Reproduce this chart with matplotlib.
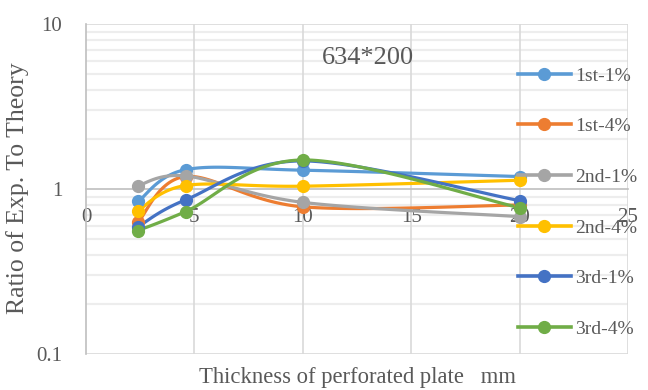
import matplotlib
matplotlib.use("Agg")
import matplotlib.pyplot as plt
import numpy as np
from matplotlib.ticker import FixedLocator, NullFormatter

plt.rcParams['font.family'] = ['Liberation Serif', 'DejaVu Serif']

thickness = [2.4, 4.6, 10, 20]
labels = ['1st-1%', '1st-4%', '2nd-1%', '2nd-4%', '3rd-1%', '3rd-4%']
ratio_1st_1 = [0.84, 1.31, 1.30, 1.19]
ratio_1st_4 = [0.63, 1.19, 0.78, 0.80]
ratio_2nd_1 = [1.05, 1.20, 0.83, 0.68]
ratio_2nd_4 = [0.74, 1.05, 1.04, 1.13]
ratio_3rd_1 = [0.59, 0.86, 1.48, 0.85]
ratio_3rd_4 = [0.56, 0.73, 1.50, 0.77]
series = [ratio_1st_1, ratio_1st_4, ratio_2nd_1, ratio_2nd_4, ratio_3rd_1, ratio_3rd_4]
colors = ['#5B9BD5', '#ED7D31', '#A5A5A5', '#FFC000', '#4472C4', '#70AD47']

txt = '#595959'


def smooth(xs, ys, n=40):
    # Bezier smoothing between points (in x / log-y space), like a spreadsheet "smoothed line"
    p = np.column_stack([xs, np.log10(ys)])
    out = [p[0]]
    t = np.linspace(0, 1, n)[1:, None]
    for i in range(len(p) - 1):
        p0 = p[max(i - 1, 0)]
        p1, p2 = p[i], p[i + 1]
        p3 = p[min(i + 2, len(p) - 1)]
        c1 = p1 + (p2 - p0) / 6
        c2 = p2 - (p3 - p1) / 6
        seg = ((1 - t) ** 3) * p1 + 3 * ((1 - t) ** 2) * t * c1 + 3 * (1 - t) * t ** 2 * c2 + t ** 3 * p2
        out.extend(seg)
    out = np.array(out)
    return out[:, 0], 10 ** out[:, 1]


fig = plt.figure(figsize=(6.48, 3.9), dpi=100)
ax = fig.add_axes([86 / 648, 1 - 354 / 390, (628 - 86) / 648, (354 - 24) / 390])

ax.set_yscale('log')
ax.set_ylim(0.1, 10)
ax.set_xlim(0, 25)

# gridlines
minor = [m * 10.0 ** e for e in (-1, 0) for m in range(2, 10)]
for v in minor:
    ax.axhline(v, color='#EDEDED', lw=1.6, zorder=0)
for v in (0.1, 10):
    ax.axhline(v, color='#D9D9D9', lw=1.2, zorder=0)
for v in (5, 10, 15, 20, 25):
    ax.axvline(v, color='#D9D9D9', lw=1.2, zorder=0)

for ys, c, lab in zip(series, colors, labels):
    sx, sy = smooth(thickness, ys)
    ax.plot(sx, sy, color=c, lw=2.3, solid_capstyle='round', zorder=3)
    ax.plot(thickness, ys, 'o', color=c, ms=8.5, zorder=4)
    ax.plot([], [], '-o', color=c, lw=2.6, ms=8.5, label=lab)

for s in ('top', 'right'):
    ax.spines[s].set_visible(False)
ax.spines['left'].set_color('#BFBFBF')
ax.spines['left'].set_linewidth(1.2)
ax.spines['bottom'].set_position(('data', 1))
ax.spines['bottom'].set_color('#BFBFBF')
ax.spines['bottom'].set_linewidth(1.2)

ax.yaxis.set_major_locator(FixedLocator([0.1, 1, 10]))
ax.yaxis.set_minor_locator(FixedLocator(minor))
ax.yaxis.set_minor_formatter(NullFormatter())
ax.set_yticklabels(['0.1', '1', '10'])
ax.set_xticks([0, 5, 10, 15, 20, 25])
ax.tick_params(axis='both', which='both', length=0, colors=txt, labelsize=15)
ax.tick_params(axis='y', pad=17)
ax.tick_params(axis='x', pad=14)

fig.text(18 / 648, 1 - 188 / 390, 'Ratio of Exp. To Theory', color=txt, fontsize=18.5,
         rotation=90, ha='center', va='center')
fig.text(357.5 / 648, 1 - 377 / 390, 'Thickness of perforated plate   mm', color=txt,
         fontsize=16.3, ha='center', va='center')
fig.text(368 / 648, 1 - 58 / 390, '634*200', color=txt, fontsize=19,
         ha='center', va='center')

fig.legend(loc='upper left', bbox_to_anchor=(518 / 648, 1 - 67 / 390), frameon=False,
           fontsize=14, handlelength=2.7, labelspacing=1.7, handletextpad=0.26,
           labelcolor=txt, borderpad=0, borderaxespad=0)

fig.savefig('out.png', dpi=100)
